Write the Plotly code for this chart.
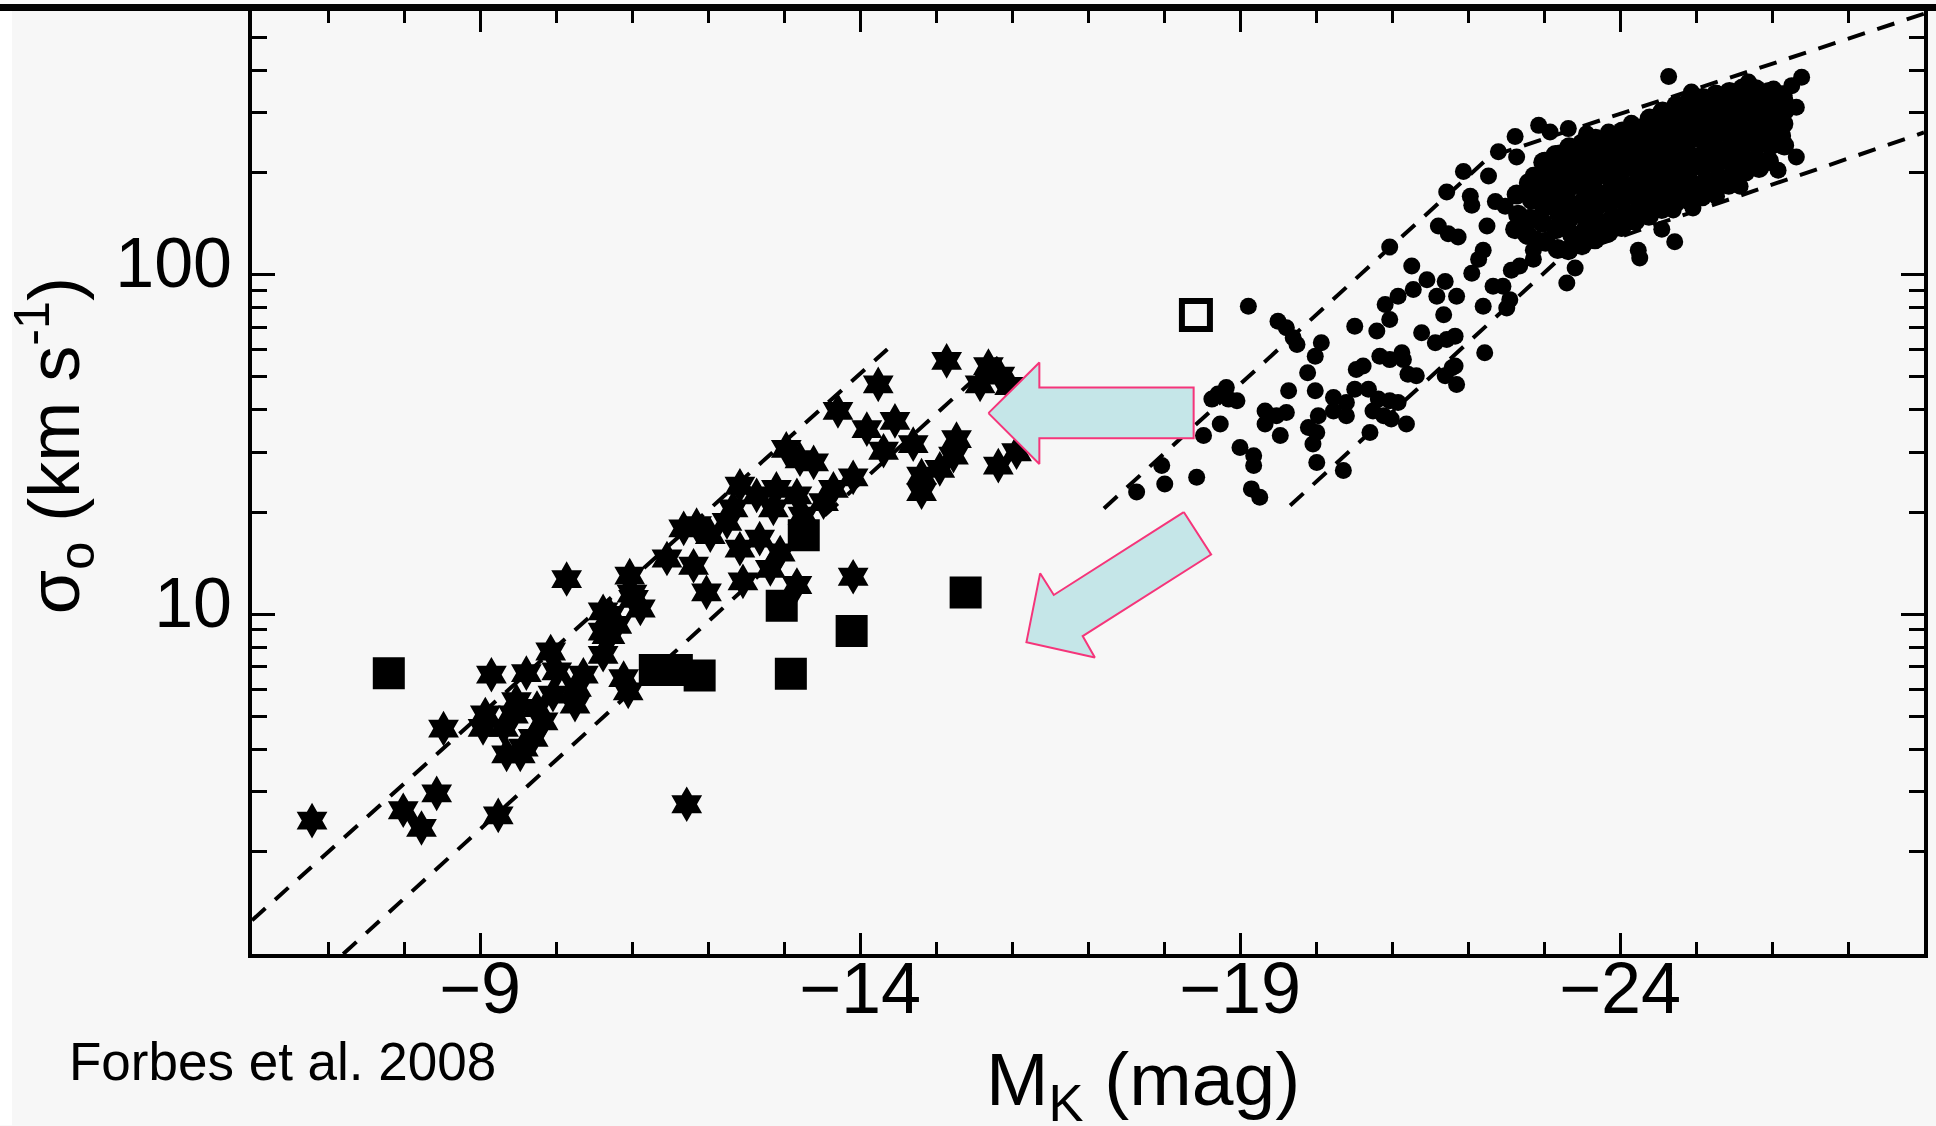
import plotly.graph_objects as go

# ---------------- data ----------------
# Dwarf / UCD objects (six-pointed stars): M_K (mag), sigma_0 (km/s)
star_mk = [-6.79, -10.14, -8.52, -9.15, -8.43, -7.99, -8.23, -9.24, -9.61, -9.93,
           -9.07, -9.04, -9.48, -9.57, -9.53, -9.70, -9.96, -10.27, -10.25, -10.01,
           -10.62, -11.00, -11.11, -10.71, -10.62, -10.80, -10.95, -10.89, -11.46, -11.68,
           -11.72, -9.31, -9.83, -9.44, -9.35, -9.75, -10.36, -10.97, -10.62,
           -15.14, -15.69, -15.58, -15.84, -15.97, -14.24, -13.71, -14.09, -14.46, -14.31,
           -14.70, -15.27, -15.23, -15.05, -14.81, -14.81, -15.82, -16.06, -13.21, -13.39,
           -13.91, -13.65, -12.90, -13.17, -12.42, -12.33, -12.86, -13.25, -11.85, -11.81,
           -11.98, -12.42, -12.46, -12.82, -13.17, -12.68, -13.91, -11.02, -10.71, -10.67,
           -13.03, -12.64, -12.25, -12.03, -12.95, -13.52]
star_sigma = [2.47, 12.7, 4.61, 6.64, 2.97, 2.65, 2.35, 2.56, 6.71, 7.77,
              5.07, 4.63, 5.55, 4.05, 3.87, 4.33, 5.80, 6.07, 5.42, 6.79,
              10.2, 11.5, 10.4, 8.69, 7.60, 9.31, 5.93, 6.49, 14.6, 17.9,
              2.76, 4.63, 4.84, 5.07, 3.87, 5.30, 6.64, 13.0, 8.89,
              55.7, 53.8, 47.5, 50.4, 47.0, 47.5, 39.7, 35.1, 37.1, 30.3,
              31.7, 32.8, 29.3, 26.8, 25.6, 22.9, 27.4, 30.0, 28.6, 28.0,
              25.3, 23.4, 23.4, 22.4, 23.9, 20.5, 20.5, 19.5, 18.3, 13.9,
              11.6, 15.6, 12.5, 13.6, 12.2, 16.7, 12.9, 11.1, 9.96, 8.69,
              30.7, 22.4, 18.7, 17.1, 15.2, 21.4]

# Filled squares
square_mk = [-7.80, -11.30, -11.59, -11.89, -12.97, -13.09, -13.89, -15.39, -13.26]
square_sigma = [6.71, 6.86, 6.86, 6.61, 10.6, 6.68, 8.93, 11.6, 17.1]

# Open square
open_sq_mk = [-18.42]
open_sq_sigma = [76.1]

# Giant early-type galaxies (filled circles), resolved individual points
gal_mk = [
    -19.11, -19.50, -19.61, -19.70, -19.75, -20.07, -19.99, -19.89, -19.64, -19.99,
    -20.23, -20.23, -20.40, -20.51, -20.69, -20.53, -20.62, -20.51, -20.80, -20.97,
    -20.91, -21.08, -21.28, -21.46, -21.70, -21.26, -21.59, -21.85, -21.68, -22.05,
    -22.20, -22.22, -21.39, -21.57, -21.72, -21.83, -20.84, -20.97, -21.13, -21.15,
    -21.21, -21.32, -21.79, -21.70, -21.85, -20.82, -20.97, -21.08, -20.75, -20.89,
    -20.99, -21.19, -20.71, -20.40, -20.03, -19.90, -20.01, -19.96, -20.01, -20.36,
    -19.33, -19.48, -19.61, -19.33, -19.53, -19.00, -19.18, -19.18, -19.15, -19.26,
    -18.43, -18.01, -17.97, -17.64, -18.52, -18.74, -18.63, -18.82, -18.96, -18.85,
    -21.83, -18.71,
    -20.97, -21.72, -21.94, -22.27, -22.03, -22.05, -22.36, -21.61, -21.74, -21.87,
    -22.25, -22.20, -22.14, -22.40, -22.33,
    -24.64, -26.39, -26.26, -26.02, -25.69, -25.27, -24.94, -26.32, -26.17, -26.32,
    -26.08, -25.58, -25.27, -24.96, -24.70, -24.55, -24.72, -24.24, -24.26, -23.41,
    -23.30, -22.93, -23.08, -23.32, -23.56, -23.85, -24.15, -24.46, -22.62, -22.64,
    -22.46, -22.51, -22.57, -22.68, -22.86, -22.90, -22.86, -22.49, -22.86, -22.84,
    -23.01, -23.21, -22.55,
]
gal_sigma = [
    80.7, 72.9, 69.7, 65.2, 62.3, 63.0, 57.5, 51.4, 45.5, 45.5,
    43.5, 39.7, 38.4, 46.0, 46.0, 52.6, 53.8, 70.5, 68.2, 73.8,
    81.6, 86.3, 90.4, 96.6, 95.5, 106, 86.3, 86.3, 76.2, 101,
    80.7, 58.9, 67.4, 63.0, 64.4, 65.9, 57.5, 56.2, 58.9, 56.2,
    50.9, 50.4, 53.2, 50.4, 47.5, 43.0, 42.5, 42.0, 39.7, 38.4,
    37.6, 36.3, 34.3, 42.0, 38.4, 35.5, 34.3, 31.7, 28.0, 26.5,
    39.7, 38.4, 39.3, 36.3, 33.6, 31.0, 29.3, 27.4, 23.4, 22.1,
    25.3, 24.2, 27.4, 22.9, 33.6, 36.3, 43.0, 46.5, 42.5, 43.0,
    53.8, 44.5,
    120.5, 175, 201, 195, 170, 160, 164, 139, 132, 129,
    139, 118, 111, 230, 92.4,
    383, 381, 360, 352, 369, 341, 345, 311, 326, 222,
    203, 182, 170, 157, 155, 136, 125, 118, 112, 104.5,
    94.4, 275, 263, 269, 260, 263, 279, 291, 255, 222,
    92.4, 79.8, 103, 106, 111, 127, 118, 159, 196, 186,
    217, 228, 84.4,
]

# Giant galaxies in the crowded core of the relation (overlapping circles)
core_mk = [
    -22.64, -22.66, -22.62,
    -22.80, -22.84, -22.82, -22.78,
    -22.99, -23.01, -22.97, -23.00, -22.98, -23.02,
    -23.15, -23.19, -23.17, -23.14, -23.20, -23.16, -23.18,
    -23.33, -23.36, -23.34, -23.31, -23.35, -23.33, -23.37, -23.32,
    -23.50, -23.54, -23.52, -23.49, -23.53, -23.51, -23.55, -23.50,
    -23.68, -23.71, -23.69, -23.66, -23.70, -23.68, -23.72, -23.67,
    -23.86, -23.89, -23.87, -23.84, -23.88, -23.86, -23.90, -23.85,
    -24.03, -24.06, -24.04, -24.01, -24.05, -24.03, -24.07, -24.02,
    -24.21, -24.24, -24.22, -24.19, -24.23, -24.21, -24.25, -24.20,
    -24.39, -24.42, -24.40, -24.37, -24.41, -24.39, -24.43, -24.38,
    -24.56, -24.59, -24.57, -24.54, -24.58, -24.56, -24.60, -24.55,
    -24.74, -24.77, -24.75, -24.72, -24.76, -24.74, -24.78, -24.73,
    -24.91, -24.94, -24.92, -24.89, -24.93, -24.91, -24.95, -24.90,
    -25.09, -25.12, -25.10, -25.07, -25.11, -25.09, -25.13, -25.08,
    -25.26, -25.29, -25.27, -25.24, -25.28, -25.26, -25.30, -25.25,
    -25.44, -25.47, -25.45, -25.42, -25.46, -25.44, -25.48, -25.43,
    -25.61, -25.64, -25.62, -25.59, -25.63, -25.61, -25.65,
    -25.79, -25.82, -25.80, -25.77, -25.81, -25.79, -25.83,
    -25.96, -25.99, -25.97, -25.94, -25.98, -25.96,
    -26.14, -26.17, -26.15, -26.12, -26.16,
]
core_sigma = [
    172, 150, 136,
    186, 166, 146, 131,
    214, 194, 176, 158, 142, 125,
    225, 205, 186, 168, 151, 136, 119,
    237, 216, 196, 178, 161, 146, 131, 118,
    243, 222, 201, 183, 166, 150, 136, 122,
    251, 230, 210, 191, 173, 157, 142, 127,
    257, 235, 215, 196, 178, 162, 147, 133,
    264, 242, 221, 201, 183, 166, 151, 138,
    270, 248, 226, 206, 188, 171, 156, 144,
    288, 262, 240, 218, 199, 181, 164, 149,
    302, 275, 251, 228, 208, 189, 171, 156,
    315, 288, 262, 238, 217, 197, 179, 163,
    324, 296, 270, 246, 223, 203, 184, 166,
    331, 302, 276, 251, 228, 208, 189, 170,
    339, 310, 282, 257, 234, 212, 193, 177,
    345, 315, 287, 261, 237, 216, 197, 184,
    353, 322, 293, 266, 243, 221, 201,
    351, 320, 292, 265, 241, 219, 206,
    345, 315, 288, 262, 240, 216,
    337, 305, 278, 256, 240,
]

# Dashed envelope lines
dwarf_upper_mk = [-6.0, -14.36]
dwarf_upper_sigma = [1.256, 60.3]
dwarf_lower_mk = [-7.2, -15.9]
dwarf_lower_sigma = [1.0, 59.3]
giant_upper_mk = [-17.21, -22.28, -28.0]
giant_upper_sigma = [20.5, 222, 586]
giant_lower_mk = [-19.66, -23.23, -28.0]
giant_lower_sigma = [20.9, 112.7, 262]

# Annotation arrows (polygons in data units)
arrow1_mk = [-15.69, -16.36, -16.36, -18.39, -18.39, -16.36, -16.36, -15.69]
arrow1_sigma = [39.1, 55.1, 46.5, 46.5, 33.0, 33.0, 27.7, 39.1]
arrow2_mk = [-18.26, -18.62, -16.93, -17.09, -16.19, -16.37, -16.55, -18.26]
arrow2_sigma = [20.0, 15.0, 8.63, 7.46, 8.28, 13.2, 11.4, 20.0]

# Axis ticks
x_major = [-9, -14, -19, -24]
x_major_text = ["\u2212" + str(abs(v)) for v in x_major]
x_minor = [v for v in range(-7, -28, -1) if v not in x_major]
y_major = [10, 100]
y_major_text = ["10", "100"]
y_minor = [2, 3, 4, 5, 6, 7, 8, 9, 20, 30, 40, 50, 60, 70, 80, 90, 200, 300, 400, 500]

FONT = "Liberation Sans, Arial, Helvetica, sans-serif"
BG = "#f7f7f7"
DASH = "18px,13px"

fig = go.Figure()

for mk, sg in [(dwarf_upper_mk, dwarf_upper_sigma), (dwarf_lower_mk, dwarf_lower_sigma),
               (giant_upper_mk, giant_upper_sigma), (giant_lower_mk, giant_lower_sigma)]:
    fig.add_trace(go.Scatter(x=mk, y=sg, mode="lines",
                             line=dict(color="black", width=4, dash=DASH),
                             hoverinfo="skip"))

fig.add_trace(go.Scatter(x=gal_mk, y=gal_sigma, mode="markers",
                         marker=dict(symbol="circle", size=17, color="black", line=dict(width=0))))
fig.add_trace(go.Scatter(x=core_mk, y=core_sigma, mode="markers",
                         marker=dict(symbol="circle", size=20, color="black", line=dict(width=0))))
fig.add_trace(go.Scatter(x=star_mk, y=star_sigma, mode="markers",
                         marker=dict(symbol="hexagram", size=27, color="black", line=dict(width=0))))
fig.add_trace(go.Scatter(x=square_mk, y=square_sigma, mode="markers",
                         marker=dict(symbol="square", size=32, color="black", line=dict(width=0))))
fig.add_trace(go.Scatter(x=open_sq_mk, y=open_sq_sigma, mode="markers",
                         marker=dict(symbol="square-open", size=28, color="black",
                                     line=dict(width=6, color="black"))))

for mk, sg in [(arrow1_mk, arrow1_sigma), (arrow2_mk, arrow2_sigma)]:
    fig.add_trace(go.Scatter(x=mk, y=sg, mode="lines", fill="toself",
                             fillcolor="#c5e6e8", line=dict(color="#f5357a", width=2),
                             hoverinfo="skip"))

W, H = 1936, 1126
ML, MR, MT, MB = 252, 12, 7, 172
PW, PH = W - ML - MR, H - MT - MB


def px_x(px):
    return (px - ML) / PW


def px_y(py):
    return (H - MB - py) / PH


fig.update_layout(
    width=W, height=H,
    margin=dict(l=ML, r=MR, t=MT, b=MB, pad=0),
    paper_bgcolor=BG, plot_bgcolor=BG,
    showlegend=False,
    font=dict(family=FONT, color="black"),
    xaxis=dict(
        range=[-6, -28], showgrid=False, zeroline=False,
        showline=True, linecolor="black", linewidth=4, mirror="ticks",
        ticks="inside", ticklen=21, tickwidth=3, tickcolor="black",
        tickmode="array", tickvals=x_major, ticktext=x_major_text,
        tickfont=dict(family=FONT, size=72, color="black"),
        ticklabelstandoff=-31,
        minor=dict(tickmode="array", tickvals=x_minor, ticks="inside",
                   ticklen=12, tickwidth=3, tickcolor="black", showgrid=False),
    ),
    yaxis=dict(
        type="log", range=[0, 2.776], showgrid=False, zeroline=False,
        showline=True, linecolor="black", linewidth=4, mirror="ticks",
        ticks="inside", ticklen=23, tickwidth=3, tickcolor="black",
        tickmode="array", tickvals=y_major, ticktext=y_major_text,
        tickfont=dict(family=FONT, size=70, color="black"),
        ticklabelstandoff=2, ticklabelshift=-12,
        minor=dict(tickmode="array", tickvals=y_minor, ticks="inside",
                   ticklen=15, tickwidth=3, tickcolor="black", showgrid=False),
    ),
    shapes=[
        dict(type="rect", xref="paper", yref="paper",
             x0=px_x(0), x1=px_x(W), y0=px_y(7), y1=px_y(0),
             fillcolor="black", line=dict(width=0), layer="above"),
        dict(type="rect", xref="paper", yref="paper",
             x0=px_x(0), x1=px_x(12), y0=px_y(H), y1=px_y(7),
             fillcolor="white", line=dict(width=0), layer="below"),
    ],
    annotations=[
        dict(text="\u03c3<sub>o</sub> (km s<sup>-1</sup>)", textangle=-90,
             xref="paper", yref="paper", x=px_x(54), y=px_y(444),
             xanchor="center", yanchor="middle", showarrow=False,
             font=dict(family=FONT, size=72, color="black")),
        dict(text="M<sub>K</sub> (mag)",
             xref="paper", yref="paper", x=px_x(1143), y=px_y(1085),
             xanchor="center", yanchor="middle", showarrow=False,
             font=dict(family=FONT, size=75, color="black")),
        dict(text="Forbes et al. 2008",
             xref="paper", yref="paper", x=px_x(67), y=px_y(1062),
             xanchor="left", yanchor="middle", showarrow=False,
             font=dict(family=FONT, size=53, color="black")),
    ],
)

fig.write_html("out.html")
